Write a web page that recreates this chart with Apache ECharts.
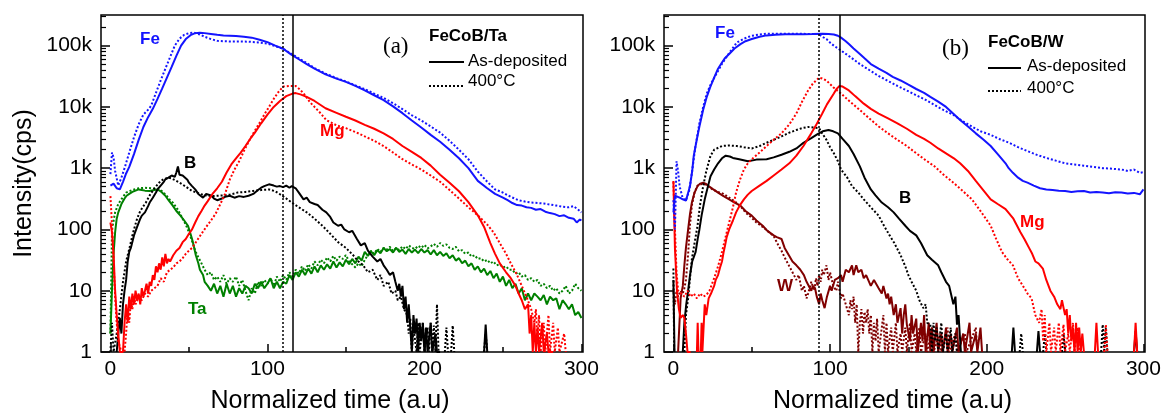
<!DOCTYPE html>
<html><head><meta charset="utf-8">
<script src="https://cdn.jsdelivr.net/npm/echarts@6/dist/echarts.min.js"></script>
<style>html,body{margin:0;padding:0;background:#fff}#c{width:1165px;height:419px}</style>
</head><body><div id="c"></div>
<script>
// ---------- axis tick values ----------
const xTicks = [0, 100, 200, 300];
const xMinorTicks = [50, 150, 250];
const yMinorTicks = [2,3,4,5,6,7,8,9,20,30,40,50,60,70,80,90,200,300,400,500,600,700,800,900,
  2000,3000,4000,5000,6000,7000,8000,9000,20000,30000,40000,50000,60000,70000,80000,90000,200000,300000];
const xMin = -6, xMax = 301, yMin = 1, yMax = 316228;

// ---------- panel (a) FeCoB/Ta ----------
const feTaSolid = [[0,520],[2,560],[4,470],[6,450],[8,600],[10,820],[12,1050],[15,1700],[18,2900],[21,4700],[24,6800],[27,9300],[30,13500],[33,20000],[36,30000],[39,45000],[42,68000],[45,100000],[48,128000],[51,148000],[54,160000],[57,163000],[60,160000],[64,155000],[68,150000],[72,147000],[76,145000],[80,143000],[85,140000],[90,135000],[95,125000],[100,114000],[105,100000],[110,89000],[115,72000],[120,60000],[125,50000],[130,42000],[137,34000],[144,29000],[150,25600],[156,22000],[162,18600],[168,15500],[174,12900],[180,10200],[186,7900],[192,6000],[198,4600],[204,3500],[210,2700],[216,2000],[222,1450],[228,1000],[234,620],[240,470],[245,380],[250,330],[253,300],[256,270],[259,250],[262,245],[265,230],[268,225],[271,210],[274,215],[277,195],[280,185],[283,178],[286,165],[289,170],[292,155],[295,150],[297,130],[299,145],[300,140]];
const feTaDot = [[0,800],[1,1800],[2,1500],[3,900],[5,520],[7,700],[9,1000],[12,1800],[15,3200],[18,5200],[21,7500],[24,9000],[26,10500],[29,17000],[32,27000],[35,42000],[38,65000],[41,100000],[44,130000],[47,150000],[50,160000],[53,163000],[56,155000],[60,140000],[64,128000],[68,120000],[72,118000],[76,117000],[82,117000],[88,116000],[94,113000],[100,108000],[105,98000],[110,89000],[115,74000],[120,62000],[125,52000],[130,43000],[137,35000],[144,29500],[150,26000],[156,22500],[162,19500],[168,16500],[174,14000],[180,11500],[186,9200],[192,7300],[198,6000],[204,4800],[210,3800],[216,2800],[222,2000],[228,1400],[234,880],[240,600],[245,450],[250,400],[255,340],[260,300],[264,285],[268,275],[272,270],[276,265],[280,255],[284,245],[288,235],[292,230],[295,240],[298,210],[300,190]];
const mgTaSolid = [[0,130],[1,90],[2,40],[3,10],[4,4],[5,2],[6,1],[8,1],[9,3],[10,6],[11,3],[12,8],[13,5],[14,9],[15,6],[16,10],[17,7],[18,9],[19,6],[20,11],[21,8],[22,10],[23,13],[24,9],[25,14],[26,12],[27,18],[28,15],[29,25],[30,20],[31,28],[32,22],[33,35],[34,25],[35,40],[36,28],[37,33],[38,30],[40,38],[42,45],[44,50],[46,62],[48,70],[50,85],[52,100],[54,130],[56,165],[58,200],[60,245],[62,290],[65,380],[68,470],[71,600],[74,850],[77,1150],[80,1450],[83,1800],[86,2300],[89,3000],[92,3800],[96,5400],[100,7500],[104,10000],[108,12500],[112,15000],[116,16500],[118,16800],[121,16000],[125,14600],[130,12500],[137,9500],[144,8000],[150,6900],[156,6000],[162,5100],[168,4400],[174,3700],[180,3000],[186,2300],[192,1850],[198,1470],[204,1100],[210,780],[216,580],[222,420],[228,280],[234,170],[238,110],[242,60],[245,40],[248,28],[252,20],[255,16],[258,12],[260,9],[262,7],[264,5],[266,6],[267,2],[268,4],[269,1],[270,3],[271,1],[272,2.5],[273,1],[275,3],[276,1],[278,2],[279,1],[282,1]];
const mgTaDot = [[0,350],[1,120],[2,30],[3,8],[4,3],[5,1.5],[7,1],[9,1],[10,2],[11,5],[12,3],[13,7],[14,5],[15,8],[16,6],[18,8],[20,7],[22,9],[24,8],[26,10],[28,11],[30,12],[32,16],[34,14],[36,20],[38,22],[40,24],[42,28],[44,30],[46,34],[48,40],[50,45],[52,50],[55,65],[58,85],[61,110],[64,140],[67,180],[70,260],[73,380],[76,650],[79,950],[82,1300],[85,1900],[88,2700],[91,3700],[95,5500],[98,7500],[101,10000],[104,13500],[107,17500],[110,21500],[114,22000],[118,22000],[121,19000],[124,15500],[127,12000],[130,10000],[134,7800],[137.5,6100],[144,5000],[150,4500],[156,3900],[162,3300],[168,2800],[174,2300],[180,1800],[186,1400],[192,1150],[198,950],[204,760],[210,600],[216,440],[222,320],[228,230],[234,170],[240,120],[244,90],[248,60],[252,40],[255,28],[259,18],[262,12],[265,8],[268,5],[270,3],[271,5],[272,1.5],[273,4],[274,1],[276,3],[277,1],[279,4],[280,1],[282,3],[283,1],[285,2.5],[286,1],[289,2],[290,1]];
const bTaSolid = [[4,1],[5,2],[6,3.6],[7,2],[8,6],[9,10],[10,15],[11,30],[12,43],[13,50],[15,80],[17,110],[19,150],[20,168],[22,190],[24,240],[25,275],[27,330],[29,400],[30,450],[32,520],[34,600],[35,660],[37,700],[39,760],[40,790],[41,720],[42,850],[43,1070],[44,780],[45,820],[46,760],[47,740],[49,650],[50,580],[52,510],[54,450],[56,380],[57,355],[59,330],[61,380],[62,400],[64,360],[66,320],[68,300],[69,295],[71,320],[73,340],[76,355],[79,330],[82,350],[85,340],[88,355],[91,380],[94,440],[96,480],[98,510],[101,545],[104,520],[106,500],[108,510],[110,490],[112,520],[114,480],[115.5,510],[118,470],[120,400],[123,310],[125,330],[127,280],[130,260],[132,250],[135,210],[137.5,190],[140,160],[142,130],[145,115],[147,120],[149,100],[152,90],[154,95],[157,70],[159.5,55],[162,60],[164,45],[167,36],[170,30],[172,33],[174,26],[176,22],[178,18],[180,20],[181.5,14],[183,10],[184,13],[185,8],[186,12],[187,5],[188,8],[189,3],[190,6],[191,2.5],[192,1],[193,4],[194,2],[195,3.5],[196,1],[197,3],[198,1.5],[199,3],[200,1],[201,2.5],[202,1],[204,3],[205,1],[207,2],[208,1],[210,1],[211,'-'],[238,1],[239,2.8],[240,1]];
const bTaDot = [[0,1],[1,3],[2,1],[4,2],[6,5],[8,14],[10,30],[12,48],[14,80],[15,100],[17,150],[19,200],[21,240],[22.6,275],[25,360],[27.5,450],[30,540],[32,620],[34,660],[37,700],[39,680],[42,620],[45,560],[48,500],[52,425],[56,390],[60,360],[64,350],[68,355],[72,360],[76,370],[81,400],[86,410],[91,425],[96,440],[101,450],[105,420],[108,375],[112,320],[115.5,275],[120,230],[125,190],[130,150],[135,115],[140,85],[145,62],[150,50],[154.6,38],[158,30],[161,26],[164,20],[167,22],[170,15],[172,18],[174,12],[177,14],[179,9],[181.5,10],[183,7],[185,8],[187,5],[189,4],[190,2],[191,3.5],[192,1],[193,2.5],[195,1],[196,3],[197,1],[199,3],[200,1],[202,2.5],[203,1],[204,3],[205,1],[206,2.7],[207,1],[208,6],[209,1],[210,'-'],[213,1],[214,2.5],[215,1],[216,'-'],[217,1],[218,2.7],[219,1],[220,'-'],[238,1],[239,2],[240,1]];
const taTaSolid = [[0,2],[1,10],[2,40],[3,90],[4,150],[5,190],[7,260],[9,320],[10.3,355],[12,380],[14,410],[16,430],[18,450],[20,440],[22,430],[25,425],[28,440],[30,450],[32,420],[35,355],[37,300],[39.7,245],[42,200],[44.6,168],[47,140],[49.4,115],[51,85],[52,70],[53,55],[54.4,38],[56,28],[57,22],[59,18],[60,14],[62,12],[64,10],[66,13],[68,9],[70,12],[72,8],[74,13],[76,9],[78,12],[80,8],[82,11],[84,9],[86,12],[88,11],[90,9],[92,13],[94,11],[96,14],[98,11],[100,13],[102,16],[104,11],[106,14],[108,11],[110,14],[112,13],[114,18],[116,15],[118,20],[120,17],[122,22],[124,18],[126,23],[128,19],[130,25],[132,20],[134,26],[136,22],[138,27],[140,23],[142,30],[144,24],[146,29],[148,25],[150,32],[152,27],[154,33],[156,28],[158,36],[160,31],[162,43],[164,37],[166,44],[168,38],[170,46],[172,41],[174,50],[176,44],[178,48],[180,42],[182,50],[184,43],[186,47],[188,40],[190,48],[192,42],[194,47],[196,41],[198,48],[200,42],[202,46],[204,39],[206,46],[208,38],[210,43],[212,37],[214,41],[216,34],[218,38],[220,31],[222,34],[224,28],[226,31],[228,25],[230,28],[232,22],[234,25],[236,20],[238,23],[240,18],[242,21],[244,16],[246,19],[248,14],[250,17],[252,12],[254,15],[256,11],[258,13],[260,9],[262,11],[264,7],[266,9],[268,7],[270,9],[272,8],[274,7],[276,8.5],[278,6],[280,8],[282,7],[284,7.5],[286,5],[288,7],[290,6],[292,5],[294,6],[296,4],[298,4.5],[300,3.6]];
const taTaDot = [[0,2],[1,100],[3,190],[5,260],[8,340],[10,400],[14,440],[18,470],[22,480],[26,470],[30,460],[33,420],[36,350],[38,300],[40,270],[43,210],[46,150],[48,120],[50,90],[52,65],[54,45],[56,35],[58,28],[60,22],[62,18],[64,20],[66,15],[68,17],[70,14],[72,18],[74,13],[76,16],[78,14],[80,17],[82,12],[84,15],[86,10],[88,7],[90,11],[92,9],[94,14],[96,12],[98,15],[100,13],[102,16],[104,12],[106,17],[108,14],[110,18],[112,15],[114,20],[116,17],[118,22],[120,19],[122,25],[124,21],[126,27],[128,23],[130,30],[132,26],[134,32],[136,28],[138,35],[140,30],[142,37],[144,31],[146,36],[148,33],[150,38],[152,30],[154,27],[156,24],[158,28],[160,25],[162,32],[164,38],[166,45],[168,40],[170,48],[172,43],[174,50],[176,47],[178,52],[180,45],[182,50],[184,46],[186,53],[188,48],[190,55],[192,50],[194,48],[196,54],[198,50],[200,56],[202,49],[204,53],[206,58],[208,52],[210,60],[212,54],[214,57],[216,50],[218,48],[220,52],[222,44],[224,46],[226,40],[228,42],[230,36],[232,38],[234,33],[236,34],[238,30],[240,32],[242,28],[244,30],[246,26],[248,27],[250,24],[252,25],[254,22],[256,22],[258,19],[260,20],[262,17],[264,18],[266,15],[268,16],[270,14],[272,15],[274,12],[276,13],[278,11],[280,12],[282,10],[284,11],[286,9],[288,10],[290,12],[292,9],[294,10],[296,13],[298,11],[300,10]];

// ---------- panel (b) FeCoB/W ----------
const feWSolid = [[0,190],[1,355],[2,375],[4,330],[6,310],[8,295],[9,290],[10.6,510],[12,900],[13,1600],[15,3000],[16.6,4800],[19,9000],[21.3,14600],[23.5,21000],[26,30000],[28.5,42000],[31,53000],[33,63000],[35.6,73000],[39,90000],[42.8,106000],[46,118000],[50,128000],[55,140000],[59.5,147000],[65,151000],[71.4,154000],[77,154000],[83,154000],[89,155000],[95.3,157000],[99,155000],[102.4,152000],[105,145000],[107,135000],[110,118000],[112,106000],[115,90000],[119,73000],[122,62000],[126,50000],[131,42000],[136,36000],[140,31000],[145,27000],[150,23000],[155,19600],[160,17000],[164,14600],[169,12200],[174,10000],[178,8000],[183,6100],[188,4800],[193,3700],[198,2900],[202.5,2300],[207,1700],[212,1200],[214,1000],[216.7,840],[220,700],[223,620],[226,580],[230,520],[234,470],[238,450],[242,440],[246,430],[250,425],[254,410],[258,420],[262,425],[266,400],[270,410],[274,400],[278,390],[282,405],[286,400],[290,385],[294,395],[297.7,375],[300,450]];
const feWDot = [[0,300],[1,100],[2,1300],[3,900],[4,500],[6,320],[8,300],[10,420],[11.8,840],[14,2200],[16.6,5400],[19,10000],[21.3,16500],[24,24000],[27,33000],[30.9,50000],[35,72000],[40.4,112000],[45,130000],[50,145000],[55,152000],[59.5,157000],[70,157000],[80,156000],[88,155000],[93,154000],[95,140000],[97.7,128000],[100,112000],[102.4,100000],[107,83000],[113,65000],[119,50000],[125,40000],[131,32000],[137,26500],[143,22000],[149,18500],[155,15500],[161,13000],[166.7,10700],[172,9000],[178.7,7400],[184,6000],[190.5,4800],[196,4000],[202.5,3500],[208,3000],[214.3,2600],[220,2200],[226,1900],[232,1650],[238,1470],[244,1330],[250,1200],[256,1150],[262,1100],[268,1050],[274,1000],[280,980],[286,950],[290,900],[294,950],[297.7,840],[300,860]];
const mgWSolid = [[0,620],[1,48],[2.3,10],[3.5,5],[4.6,3.6],[6,4],[7,3.6],[8,2],[9,1],[11,1],[12,'-'],[15,1],[15.5,3],[16,1],[16.5,'-'],[17.5,1],[18,3],[18.5,1],[19.5,1],[20,6],[21,4],[22.5,7.5],[24,9],[26,12],[27,15],[28.5,18],[30,25],[31,30],[32,42],[33,55],[34,75],[35.6,100],[38,140],[40,190],[42.5,250],[45,310],[47.5,370],[50,425],[55,520],[59.5,620],[64,760],[69,950],[74,1200],[78.5,1600],[83,2300],[88,3700],[91,5000],[95,7800],[98,11000],[102.4,16500],[104,19500],[106,22000],[108,21500],[112,18600],[116,15000],[121.5,11300],[126,9300],[131,7800],[137,6500],[143,5400],[149,4400],[155,3500],[160,3000],[164,2600],[169,2100],[174,1750],[179,1450],[183,1200],[188,900],[193,620],[198,430],[202.5,310],[207,260],[212,215],[217,150],[221.5,90],[224,70],[227,50],[229,40],[231,30],[233,28],[235.8,23],[238,15],[240.6,10],[243,8],[245,6],[247,5],[248,7],[250,4],[251,5],[252,2],[253,4],[254,1.5],[255,2.5],[256,1],[257,3],[258,1],[259,2.5],[260,1],[261,2],[262,1],[263,'-'],[269,1],[270,3],[271,1],[272,'-'],[294,1],[295,3],[296,1]];
const mgWDot = [[0,600],[1,100],[2,20],[3,10],[5,9],[7,8],[9,10],[11,8],[13,9],[15,7.5],[17,9],[19,8],[21,8.5],[23,10],[26,16],[28.5,25],[31,43],[33,70],[35.6,130],[38,230],[40,400],[42.5,650],[45,950],[47.5,1200],[50,1400],[55,1800],[59.5,2300],[64,2900],[69,3700],[74,5200],[78.5,7800],[82,12000],[86,18600],[89,24000],[93,30000],[95,29000],[97.7,27000],[102,21000],[107,16500],[113,12000],[119,8900],[125,6500],[131,4800],[137,3700],[143,2900],[149,2300],[155,1750],[161,1350],[166.7,1070],[172,800],[178.7,580],[184,440],[190.5,310],[196,200],[202.5,115],[206,70],[209.7,43],[213,33],[216.7,26],[220,16],[224,11],[226,9],[228.6,7.5],[231,4],[233.4,3],[235,5],[236,1.5],[237,4],[238,1],[240,3],[241,1],[243,2.5],[244,1],[246,3],[247,1],[249,2.8],[250,1],[252,2],[253,1],[255,3],[256,1],[258,2.5],[259,1],[260,'-'],[275,1],[276,2.8],[277,1]];
const bWSolid = [[0,15],[0.7,1],[1,'-'],[6,1],[7,3],[8.2,6],[9.4,10],[10.6,18],[12,30],[14.2,43],[15.5,70],[16.6,100],[18,170],[20,310],[22,500],[23.7,740],[26,950],[28.5,1200],[31,1450],[33.4,1600],[36,1550],[38,1470],[42,1400],[47.6,1300],[53,1380],[59.5,1400],[64,1500],[69,1660],[74,1850],[78.5,2100],[83,2600],[88,3100],[92,3600],[95.3,4000],[99,4200],[102,4000],[105,3700],[108,3000],[112,2300],[115,1700],[119,1070],[122,700],[126,450],[129,360],[133,275],[137,230],[140.6,190],[144,150],[148,115],[151,95],[155,80],[158,60],[162,38],[165,32],[169,26],[171,20],[174,14],[176,12],[178.7,6],[180,8],[181,2.8],[182,4],[183.5,1],[184,'-'],[216,1],[217,2.5],[218,1],[219,'-'],[232,1],[233,2.2],[234,1],[235,'-'],[294,1],[295,2.2],[296,1]];
const bWDot = [[0,23],[0.5,1],[1,'-'],[7,1],[8,4],[9.4,7.5],[10.5,15],[11.8,33],[13.5,60],[15.4,115],[17,250],[19,510],[21,900],[23.7,1600],[26,2000],[31,2300],[35,2350],[40.4,2300],[45,2200],[50,2100],[55,2300],[59.5,2600],[64,2900],[69,3300],[74,3800],[78.5,4200],[82,4500],[86,4700],[90,4600],[93,4500],[95,3700],[97.7,2900],[100,2200],[102.4,1750],[105,1300],[107,950],[111,700],[114,510],[118,400],[121.5,310],[126,230],[131,168],[134,120],[138,80],[141,60],[145,38],[148,25],[150,18],[152,14],[155,10],[157,7],[159.5,5.2],[161,6],[162,3],[164,2.8],[165,1],[166,3],[167,1.5],[168,2.5],[169,1],[171,3],[172,1],[174,2],[175,1],[177,2.5],[178,1],[180,2],[181,1],[183,'-'],[221,1],[222,2],[223,1],[224,'-'],[236,1],[237,2],[238,1],[239,'-'],[248,1],[249,2],[250,1],[251,'-'],[273,1],[274,2.8],[275,1],[276,2.5],[277,1]];
const wWSolid = [[3,1],[4.6,7.5],[6,12],[7,26],[8,50],[9.4,100],[10.6,180],[11.8,275],[13.5,400],[15.4,510],[17,560],[19,580],[20.5,560],[22.5,510],[25,460],[28.5,400],[32,350],[35.6,310],[39,275],[42.8,245],[46,200],[50,168],[53,140],[57,115],[60,95],[64,80],[66,75],[69,70],[71,50],[73.7,38],[76,30],[78.5,26],[81,22],[83.3,18],[85,14],[88,10],[89,12],[90.4,11],[91.5,8],[93,6],[94,9],[95,7],[96.5,5.2],[98,8],[100,12],[101,10],[103,15],[105,16],[107,18],[108,14],[110,22],[112,20],[114,26],[115,18],[116.7,26],[118,20],[120,22],[121.5,16],[123,18],[126,12],[128,15],[131,11],[133,9],[134,12],[136,7.5],[137,9],[138,6],[139,8],[140.6,4],[142,6],[143,3],[145,5.2],[146,2],[147,4],[148,6],[149,2.8],[150,3],[151,1.5],[152,4],[153,2],[155,3.5],[156,1],[158,3],[159,1.5],[160,4],[161,1],[163,3],[164,1],[165,2.5],[166,1],[168,3],[169,1],[171,2],[172,1],[174,2.5],[175,1],[177,2],[178,1],[181,2.5],[182,1],[185,2],[186,1],[189,3],[190,1],[193,2],[194,1],[196,2.5],[197,1]];
const wWDot = [[0,10],[1,6],[2,10],[3,8],[4.6,10],[6,9],[7,11],[8,15],[9.4,40],[10.6,120],[11.8,250],[13.5,400],[15.4,520],[17,540],[19,560],[20.5,540],[22.5,500],[25,450],[28.5,410],[32,380],[35.6,330],[39,290],[42.8,240],[46,190],[50,155],[53,130],[57,110],[60,95],[64,78],[67,55],[69,45],[71,35],[74,25],[76,20],[78.5,15],[80,18],[82,10],[83.3,12],[85,7.5],[86,9],[87,11],[88,14],[90,10],[91,16],[92,12],[93,18],[94,14],[95,22],[96,18],[97.7,26],[99,15],[100,20],[102,12],[104,10],[105,14],[107,7.5],[108,9],[110,6],[112,4],[113,7],[114,5],[115,8],[116,3],[117,6],[118,1],[119,3],[120,5],[121,2],[122,4.5],[123,3],[124,5],[125,2],[126,4],[127,1],[128,3],[129,1.5],[130,3.5],[131,1],[133,2.5],[134,4],[135,1],[136,3],[137,1],[139,2.5],[140,1],[142,3],[143,1],[145,2],[146,1],[148,2.5],[149,1],[151,3],[152,1],[154,2],[155,1],[157,2.5],[158,1],[161,2],[162,1],[165,2.5],[166,1],[170,2],[171,1],[175,2.5],[176,1],[180,2],[181,1],[186,2],[187,1],[193,2.5],[194,1]];

// vertical reference lines (x positions)
const linesA = {solid: 116, dotted: 110};
const linesB = {solid: 106, dotted: 92.5};

// ---------- styling ----------
const BLUE = '#1414ff', RED = '#ff0000', BLACK = '#000000', GREEN = '#008000', DARKRED = '#800000';
const SANS = '"Liberation Sans", Arial, sans-serif';
const SERIF = '"Liberation Serif", "Times New Roman", serif';

const panelA = [
  {d: taTaDot, c: GREEN, dot: true}, {d: taTaSolid, c: GREEN},
  {d: bTaDot, c: BLACK, dot: true}, {d: bTaSolid, c: BLACK},
  {d: mgTaDot, c: RED, dot: true}, {d: mgTaSolid, c: RED},
  {d: feTaDot, c: BLUE, dot: true}, {d: feTaSolid, c: BLUE}
];
const panelB = [
  {d: wWDot, c: DARKRED, dot: true}, {d: wWSolid, c: DARKRED},
  {d: bWDot, c: BLACK, dot: true}, {d: bWSolid, c: BLACK},
  {d: mgWDot, c: RED, dot: true}, {d: mgWSolid, c: RED},
  {d: feWDot, c: BLUE, dot: true}, {d: feWSolid, c: BLUE}
];

function yLabel(v) {
  const l = Math.log10(v), e = Math.round(l);
  if (Math.abs(l - e) > 1e-6) return '';
  const n = Math.pow(10, e);
  return n >= 1000 ? (n / 1000) + 'k' : String(n);
}

function xAxes(gi) {
  return [{
    type: 'value', gridIndex: gi, min: xMin, max: xMax, position: 'bottom',
    axisLine: {show: false, onZero: false}, splitLine: {show: false},
    axisTick: {show: true, inside: true, length: 8, customValues: xTicks, lineStyle: {color: '#000', width: 1.5}},
    axisLabel: {customValues: xTicks, fontSize: 21, color: '#000', margin: 7, fontFamily: SANS},
    name: 'Normalized time (a.u)', nameLocation: 'middle', nameGap: 37,
    nameTextStyle: {fontSize: 25, color: '#000', fontFamily: SANS, padding: [0, 24, 0, 0]}
  }, {
    type: 'value', gridIndex: gi, min: xMin, max: xMax, position: 'bottom',
    axisLine: {show: false, onZero: false}, splitLine: {show: false}, axisLabel: {show: false},
    axisTick: {show: true, inside: true, length: 5, customValues: xMinorTicks, lineStyle: {color: '#000', width: 1.5}}
  }];
}
function yAxes(gi, withName) {
  const major = {
    type: 'log', logBase: 10, gridIndex: gi, min: yMin, max: yMax, position: 'left',
    axisLine: {show: false, onZero: false}, splitLine: {show: false}, minorTick: {show: false},
    axisTick: {show: true, inside: true, length: 9, lineStyle: {color: '#000', width: 1.5}},
    axisLabel: {formatter: yLabel, fontSize: 21, color: '#000', margin: 9, fontFamily: SANS, showMaxLabel: false}
  };
  if (withName) {
    major.name = 'Intensity(cps)';
    major.nameLocation = 'middle';
    major.nameGap = 64;
    major.nameTextStyle = {fontSize: 25, color: '#000', fontFamily: SANS};
  }
  const minor = {
    type: 'value', gridIndex: gi, min: 0, max: Math.log10(yMax), position: 'left',
    axisLine: {show: false, onZero: false}, splitLine: {show: false}, axisLabel: {show: false},
    axisTick: {show: true, inside: true, length: 5, customValues: yMinorTicks.map(v => Math.log10(v)), lineStyle: {color: '#000', width: 1.2}}
  };
  return [major, minor];
}

function buildSeries(panel, gi, lines) {
  const out = panel.map(p => ({
    type: 'line', xAxisIndex: gi * 2, yAxisIndex: gi * 2, data: p.d,
    symbol: 'none', showSymbol: false, connectNulls: false, animation: false, silent: true,
    lineStyle: {color: p.c, width: 2, type: p.dot ? [2, 2] : 'solid'},
    itemStyle: {color: p.c}
  }));
  out[out.length - 1].markLine = {
    silent: true, symbol: 'none', label: {show: false}, animation: false,
    data: [
      {xAxis: lines.solid, lineStyle: {color: '#000', width: 1.5, type: 'solid'}},
      {xAxis: lines.dotted, lineStyle: {color: '#000', width: 1.5, type: [2, 2]}}
    ]
  };
  return out;
}

function txt(text, x, y, font, fill) {
  return {type: 'text', silent: true, z: 100, style: {
    text, x, y, font, fill, align: 'left', verticalAlign: 'middle', textAlign: 'left', textVerticalAlign: 'middle'
  }};
}
function seg(x1, y1, x2, y2, dotted) {
  return {type: 'line', silent: true, z: 100, shape: {x1, y1, x2, y2},
    style: {stroke: '#000', lineWidth: 2, lineDash: dotted ? [2, 2] : null}};
}

const LBL = 'bold 17px ' + SANS;
const graphic = [
  txt('Fe', 140, 39, LBL, BLUE), txt('B', 184, 163, LBL, BLACK),
  txt('Mg', 320, 131, LBL, RED), txt('Ta', 188, 309, LBL, GREEN),
  txt('(a)', 383, 47, '23px ' + SERIF, '#000'),
  txt('FeCoB/Ta', 429, 36, 'bold 17px ' + SANS, '#000'),
  seg(429, 62, 464, 62, false), txt('As-deposited', 468, 61, '17px ' + SANS, '#000'),
  seg(429, 86, 464, 86, true), txt('400°C', 468, 81, '17px ' + SANS, '#000'),

  txt('Fe', 715, 33, LBL, BLUE), txt('B', 899, 198, LBL, BLACK),
  txt('Mg', 1020, 222, LBL, RED), txt('W', 777, 286, LBL, DARKRED),
  txt('(b)', 942, 49, '23px ' + SERIF, '#000'),
  txt('FeCoB/W', 988, 42, 'bold 17px ' + SANS, '#000'),
  seg(988, 68, 1021, 68, false), txt('As-deposited', 1027, 66, '17px ' + SANS, '#000'),
  seg(988, 91, 1021, 91, true), txt('400°C', 1027, 88, '17px ' + SANS, '#000')
];

const chart = echarts.init(document.getElementById('c'), null, {renderer: 'canvas'});
chart.setOption({
  animation: false,
  backgroundColor: '#fff',
  grid: [
    {left: 101, top: 15, width: 482, height: 340, show: true, borderColor: '#000', borderWidth: 1.5, backgroundColor: 'transparent'},
    {left: 664, top: 15, width: 481, height: 340, show: true, borderColor: '#000', borderWidth: 1.5, backgroundColor: 'transparent'}
  ],
  xAxis: [...xAxes(0), ...xAxes(1)],
  yAxis: [...yAxes(0, true), ...yAxes(1, false)],
  series: [...buildSeries(panelA, 0, linesA), ...buildSeries(panelB, 1, linesB)],
  graphic
});
</script></body></html>
